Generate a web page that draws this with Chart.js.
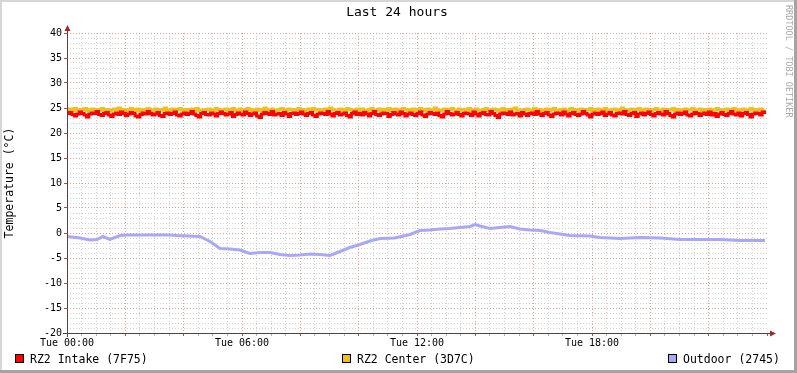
<!DOCTYPE html>
<html>
<head>
<meta charset="utf-8">
<script src="https://cdn.jsdelivr.net/npm/chart.js@4/dist/chart.umd.min.js"></script>
<style>
  html, body { margin: 0; padding: 0; background: #fff; }
  #wrap { width: 797px; height: 373px; position: relative; }
</style>
</head>
<body>
<div id="wrap"><canvas id="chart" width="797" height="373"></canvas></div>
<script>
// 5-minute samples, Tue 00:00 .. 23:55 (one row = 2 hours)
const intake = [
  23.9, 24.1, 23.7, 23.4, 23.8, 24.2, 23.9, 23.6, 23.2, 23.8, 24.0, 23.9, 24.3, 23.7, 23.5, 23.9, 24.1, 23.6, 23.3, 23.8, 24.0, 23.7, 24.2, 23.9,
  23.5, 23.8, 24.1, 23.9, 23.4, 23.2, 23.7, 24.0, 23.8, 24.3, 23.9, 23.6, 23.8, 24.1, 23.5, 23.3, 23.9, 24.0, 23.7, 23.9, 24.2, 23.6, 23.4, 23.8,
  24.0, 23.7, 23.9, 24.3, 23.8, 23.5, 23.2, 23.9, 24.1, 23.7, 23.6, 24.0, 23.8, 23.4, 23.9, 24.2, 23.9, 23.6, 23.8, 24.1, 23.3, 23.7, 24.0, 23.8,
  23.6, 24.2, 23.9, 23.5, 23.8, 24.0, 23.4, 23.1, 23.8, 24.1, 23.9, 23.7, 24.3, 23.6, 23.8, 23.9, 23.5, 24.1, 23.8, 23.3, 23.9, 24.0, 23.7, 23.9,
  24.2, 23.8, 23.5, 23.9, 24.1, 23.6, 23.3, 23.8, 24.0, 23.9, 23.7, 24.3, 23.8, 23.4, 23.9, 24.1, 23.6, 23.8, 24.0, 23.5, 23.2, 23.9, 24.2, 23.7,
  23.9, 23.6, 24.1, 23.8, 23.4, 23.9, 24.3, 23.7, 23.5, 23.8, 24.0, 23.9, 23.3, 23.7, 24.1, 23.8, 23.6, 24.2, 23.9, 23.4, 23.8, 24.0, 23.7, 23.5,
  23.9, 24.2, 23.6, 23.3, 23.8, 24.1, 23.9, 23.7, 24.0, 23.5, 23.2, 23.8, 24.3, 23.9, 23.6, 23.8, 24.1, 23.7, 23.4, 23.9, 24.0, 23.8, 23.5, 24.2,
  23.8, 23.4, 23.9, 24.1, 23.7, 23.6, 24.3, 23.9, 23.5, 23.1, 23.8, 24.0, 23.9, 23.7, 24.2, 23.6, 23.8, 23.9, 23.4, 24.1, 23.8, 23.5, 23.9, 24.0,
  23.7, 24.3, 23.8, 23.5, 23.9, 24.1, 23.6, 23.3, 23.8, 24.0, 23.9, 23.6, 24.2, 23.8, 23.4, 23.9, 24.1, 23.7, 23.5, 23.8, 24.3, 23.9, 23.6, 23.2,
  23.8, 24.0, 23.7, 23.9, 24.2, 23.5, 23.8, 24.1, 23.6, 23.4, 23.9, 24.0, 23.8, 24.3, 23.7, 23.5, 23.9, 24.1, 23.3, 23.8, 24.0, 23.6, 23.9, 24.2,
  23.7, 23.4, 23.9, 24.1, 23.8, 23.6, 24.3, 23.9, 23.5, 23.2, 23.8, 24.0, 23.7, 23.9, 24.2, 23.6, 23.4, 23.8, 24.1, 23.9, 23.5, 23.8, 24.0, 23.7,
  24.2, 23.6, 23.9, 23.3, 23.8, 24.1, 23.7, 23.5, 23.9, 24.3, 23.8, 23.6, 24.0, 23.4, 23.9, 24.1, 23.7, 23.2, 23.8, 24.0, 23.9, 23.6, 24.2, 23.8
];
const center = [
  24.6, 24.8, 24.5, 24.9, 24.6, 24.4, 24.7, 24.9, 24.5, 24.6, 24.8, 24.3, 24.7, 24.6, 24.9, 24.5, 24.7, 24.4, 24.6, 24.8, 24.6, 25.0, 24.5, 24.7,
  24.4, 24.6, 24.9, 24.7, 24.5, 24.8, 24.3, 24.6, 24.7, 24.9, 24.5, 24.6, 24.8, 24.4, 24.7, 24.6, 25.0, 24.5, 24.6, 24.8, 24.4, 24.7, 24.9, 24.6,
  24.5, 24.7, 24.4, 24.8, 24.6, 24.9, 24.5, 24.6, 24.3, 24.7, 24.8, 24.6, 24.5, 24.9, 24.7, 24.4, 24.6, 24.8, 24.5, 24.7, 24.9, 24.6, 24.4, 24.8,
  24.6, 24.5, 24.9, 24.7, 24.4, 24.6, 24.8, 24.5, 24.7, 25.0, 24.6, 24.4, 24.8, 24.6, 24.5, 24.7, 24.9, 24.3, 24.6, 24.8, 24.7, 24.5, 24.6, 24.9,
  24.7, 24.4, 24.6, 24.8, 24.5, 24.9, 24.6, 24.7, 24.4, 24.6, 24.8, 24.5, 25.0, 24.7, 24.6, 24.4, 24.8, 24.6, 24.5, 24.9, 24.7, 24.4, 24.6, 24.8,
  24.5, 24.8, 24.6, 24.4, 24.7, 24.9, 24.5, 24.6, 24.8, 24.3, 24.7, 24.6, 24.9, 24.5, 24.7, 24.8, 24.4, 24.6, 24.9, 24.7, 24.5, 24.6, 24.8, 24.4,
  24.7, 24.9, 24.6, 24.5, 24.8, 24.4, 24.6, 25.0, 24.7, 24.5, 24.6, 24.8, 24.4, 24.7, 24.9, 24.6, 24.5, 24.8, 24.6, 24.3, 24.7, 24.9, 24.6, 24.5,
  24.8, 24.6, 24.4, 24.7, 24.9, 24.5, 24.6, 24.8, 24.7, 24.4, 24.6, 24.9, 24.5, 24.7, 24.6, 24.8, 25.0, 24.5, 24.6, 24.4, 24.7, 24.8, 24.6, 24.5,
  24.9, 24.6, 24.7, 24.4, 24.6, 24.8, 24.5, 24.7, 24.9, 24.6, 24.3, 24.7, 24.8, 24.5, 24.6, 24.9, 24.7, 24.4, 24.6, 24.8, 24.5, 24.7, 24.6, 24.9,
  24.5, 24.7, 24.8, 24.4, 24.6, 24.9, 24.6, 24.5, 24.7, 24.8, 24.4, 24.6, 25.0, 24.7, 24.5, 24.6, 24.8, 24.4, 24.7, 24.9, 24.6, 24.5, 24.8, 24.6,
  24.4, 24.7, 24.9, 24.5, 24.6, 24.8, 24.4, 24.7, 24.6, 24.9, 24.5, 24.7, 24.6, 24.3, 24.8, 24.6, 24.7, 24.9, 24.5, 24.6, 24.8, 24.4, 24.7, 24.6,
  24.8, 24.5, 24.6, 24.9, 24.7, 24.4, 24.6, 24.8, 24.5, 24.7, 24.9, 24.6, 24.4, 24.7, 24.8, 24.5, 24.6, 24.9, 24.7, 24.5, 24.6, 24.8, 24.4, 24.7
];
// outdoor: hour of day / temperature
const outdoorHours = [
  0, 0.45, 0.79, 1.03, 1.23, 1.47, 1.82, 2.06, 2.85, 3.53, 3.77, 4.56,
  4.73, 4.9, 5.25, 5.59, 5.93, 6.27, 6.62, 6.96, 7.3, 7.64, 7.99, 8.33,
  8.67, 9.02, 9.36, 9.7, 10.04, 10.39, 10.73, 11.24, 11.76, 12.1, 12.44, 12.79,
  13.13, 13.47, 13.82, 13.99, 14.16, 14.5, 14.84, 15.19, 15.53, 15.87, 16.22, 16.56,
  16.9, 17.24, 17.93, 18.27, 18.96, 19.64, 20.33, 21.02, 22.39, 23.07, 23.93
];
const outdoor = [
  -0.7, -1.0, -1.4, -1.3, -0.7, -1.3, -0.5, -0.4, -0.4, -0.4, -0.5, -0.7,
  -1.2, -1.7, -3.1, -3.2, -3.4, -4.1, -3.9, -3.9, -4.3, -4.5, -4.4, -4.2,
  -4.3, -4.5, -3.7, -2.9, -2.3, -1.6, -1.1, -1.0, -0.3, 0.5, 0.6, 0.8,
  0.9, 1.1, 1.3, 1.7, 1.4, 0.9, 1.1, 1.3, 0.8, 0.6, 0.5, 0.1,
  -0.2, -0.5, -0.6, -0.9, -1.1, -0.9, -1.0, -1.3, -1.3, -1.5, -1.5
];
const xLabels = { 0: 'Tue 00:00', 6: 'Tue 06:00', 12: 'Tue 12:00', 18: 'Tue 18:00' };
const seriesNames = ['RZ2 Intake (7F75)', 'RZ2 Center (3D7C)', 'Outdoor (2745)'];
const seriesColors = ['#ff0000', '#ecc11c', '#a8a8f6'];

const MONO = '"DejaVu Sans Mono", "Liberation Mono", monospace';
const majorGrid = '#e49a9a';
const minorGrid = '#cfcfcf';

const rrdDecor = {
    id: 'rrdDecor',
    beforeDraw(chart) {
        const ctx = chart.ctx;
        ctx.save();
        ctx.fillStyle = '#ffffff';
        ctx.fillRect(0, 0, chart.width, chart.height);
        ctx.restore();
    },
    afterDraw(chart) {
        const ctx = chart.ctx;
        const a = chart.chartArea;
        ctx.save();

        // frame
        ctx.fillStyle = '#d6d6d6';
        ctx.fillRect(0, 0, chart.width, 2);
        ctx.fillRect(0, 0, 2, chart.height);
        ctx.fillStyle = '#a4a4a4';
        ctx.fillRect(chart.width - 3, 0, 3, chart.height);
        ctx.fillRect(0, chart.height - 3, chart.width, 3);

        // axes + arrows
        ctx.strokeStyle = '#504444';
        ctx.lineWidth = 1;
        ctx.beginPath();
        ctx.moveTo(a.left + 0.5, a.bottom + 4);
        ctx.lineTo(a.left + 0.5, a.top - 4);
        ctx.moveTo(a.left - 4, a.bottom + 0.5);
        ctx.lineTo(a.right + 4, a.bottom + 0.5);
        ctx.stroke();
        ctx.fillStyle = '#a02828';
        ctx.beginPath();
        ctx.moveTo(a.left + 0.5, a.top - 8);
        ctx.lineTo(a.left - 2.5, a.top - 2);
        ctx.lineTo(a.left + 3.5, a.top - 2);
        ctx.closePath();
        ctx.fill();
        ctx.beginPath();
        ctx.moveTo(a.right + 9, a.bottom + 0.5);
        ctx.lineTo(a.right + 3, a.bottom - 2.5);
        ctx.lineTo(a.right + 3, a.bottom + 3.5);
        ctx.closePath();
        ctx.fill();

        // title
        ctx.fillStyle = '#000';
        ctx.font = '13px ' + MONO;
        ctx.textAlign = 'center';
        ctx.textBaseline = 'middle';
        ctx.fillText('Last 24 hours', 397, 13);

        // watermark
        ctx.save();
        ctx.translate(788, 5);
        ctx.rotate(Math.PI / 2);
        ctx.fillStyle = '#a8a8a8';
        ctx.font = '8.5px ' + MONO;
        ctx.textAlign = 'left';
        ctx.textBaseline = 'middle';
        ctx.fillText('RRDTOOL / TOBI OETIKER', 0, 0);
        ctx.restore();

        // legend
        const legendX = [15, 342, 668];
        ctx.font = '11.5px ' + MONO;
        ctx.textAlign = 'left';
        ctx.textBaseline = 'alphabetic';
        seriesNames.forEach((name, i) => {
            ctx.fillStyle = seriesColors[i];
            ctx.fillRect(legendX[i] + 0.5, 354.5, 8, 8);
            ctx.strokeStyle = '#000';
            ctx.strokeRect(legendX[i] + 0.5, 354.5, 8, 8);
            ctx.fillStyle = '#000';
            ctx.fillText(name, legendX[i] + 15, 363);
        });
        ctx.restore();
    }
};

const fiveMin = v => v.map((y, i) => ({ x: i / 12, y }));

new Chart(document.getElementById('chart').getContext('2d'), {
    type: 'line',
    data: {
        datasets: [
            {
                label: seriesNames[0],
                data: fiveMin(intake),
                borderColor: seriesColors[0],
                borderWidth: 3,
                stepped: true,
                pointRadius: 0
            },
            {
                label: seriesNames[1],
                data: fiveMin(center),
                borderColor: seriesColors[1],
                borderWidth: 3,
                stepped: true,
                pointRadius: 0
            },
            {
                label: seriesNames[2],
                data: outdoorHours.map((h, i) => ({ x: h, y: outdoor[i] })),
                borderColor: seriesColors[2],
                borderWidth: 3,
                pointRadius: 0
            }
        ]
    },
    options: {
        responsive: false,
        animation: false,
        layout: { padding: { top: 33, right: 30, bottom: 0, left: 0 } },
        plugins: {
            legend: { display: false },
            title: { display: false },
            tooltip: { enabled: false }
        },
        scales: {
            x: {
                type: 'linear',
                min: 0,
                max: 24,
                afterFit: s => { s.height = 40; },
                border: { display: false, dash: [1, 2] },
                grid: {
                    color: c => c.tick.value === 24 ? 'rgba(0,0,0,0)' :
                        (c.tick.value % 2 === 0 ? majorGrid : minorGrid),
                    tickColor: c => c.tick.value % 2 === 0 ? '#d04040' : '#b0b0b0',
                    tickLength: 3
                },
                ticks: {
                    stepSize: 0.5,
                    autoSkip: false,
                    maxRotation: 0,
                    padding: 1,
                    color: '#000',
                    font: { family: MONO, size: 10 },
                    callback: v => xLabels[v] || ''
                }
            },
            y: {
                min: -20,
                max: 40,
                afterFit: s => { s.width = 67; },
                border: { display: false, dash: [1, 2] },
                grid: {
                    color: c => c.tick.value % 5 === 0 ? majorGrid : minorGrid,
                    tickColor: c => c.tick.value % 5 === 0 ? '#d04040' : 'rgba(0,0,0,0)',
                    tickLength: 3
                },
                ticks: {
                    stepSize: 1,
                    autoSkip: false,
                    padding: 2,
                    color: '#000',
                    font: { family: MONO, size: 10 },
                    callback: v => v % 5 === 0 ? String(v) : ''
                },
                title: {
                    display: true,
                    text: 'Temperature (°C)',
                    color: '#000',
                    font: { family: MONO, size: 11.5 },
                    padding: { top: 3, bottom: 0 }
                }
            }
        }
    },
    plugins: [rrdDecor]
});
</script>
</body>
</html>
